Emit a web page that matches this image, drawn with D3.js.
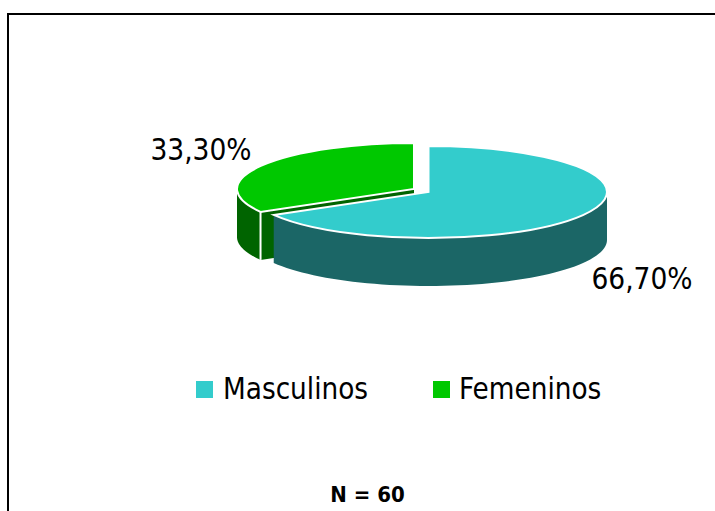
<!DOCTYPE html>
<html><head><meta charset="utf-8">
<script src="https://cdn.jsdelivr.net/npm/d3@7"></script>
<style>html,body{margin:0;padding:0;background:#fff;overflow:hidden}svg{display:block}
text{font-family:"DejaVu Sans Condensed","DejaVu Sans",sans-serif;fill:#000}</style></head>
<body><svg id="c" width="715" height="511"></svg>
<script>
const categories=["Masculinos","Femeninos"];
const values=[66.7,33.3];
const valueLabels=["66,70%","33,30%"];
const topColors=["#33CCCC","#00C800"];
const wallColors=["#1B6666","#006400"];
const note="N = 60";

const svg=d3.select("#c");
svg.append("path").attr("d","M8 511V14H715").attr("fill","none").attr("stroke","#000").attr("stroke-width",2);

const ry=46,depth=48;
const centers=[{x:428.5,y:192,rx:178.5},{x:414,y:189,rx:177}];
const arcs=d3.pie().value(d=>d).sort(null)(values);
const px=(c,t)=>c.x+c.rx*Math.sin(t), py=(c,t,d=0)=>c.y-ry*Math.cos(t)+d;
const line=d3.line();

function wall(c,a0,a1){
  const ts=d3.range(0,61).map(i=>a0+(a1-a0)*i/60);
  return line(ts.map(t=>[px(c,t),py(c,t)]).concat(ts.slice().reverse().map(t=>[px(c,t),py(c,t,depth)])))+"Z";
}
const layers=svg.append("g");
// green piece first, blue overlaps it
const g1=layers.append("g");
const c1=centers[1],a1=arcs[1];
const tipX=px(c1,a1.startAngle),tipY=py(c1,a1.startAngle);
g1.append("path").attr("d",line([[tipX,tipY],[c1.x,c1.y],[c1.x,c1.y+depth],[tipX,tipY+depth]])+"Z")
  .attr("fill",wallColors[1]);
g1.append("path").attr("d",wall(c1,a1.startAngle,Math.PI*1.5)).attr("fill",wallColors[1]);
g1.append("path").attr("d",line([[tipX,tipY],[tipX,tipY+depth]])).attr("stroke","#fff").attr("stroke-width",2).attr("fill","none");
g1.append("path").attr("d",d3.arc().innerRadius(0).outerRadius(c1.rx)(a1)).attr("transform",`translate(${c1.x},${c1.y}) scale(1,${ry/c1.rx})`)
  .attr("fill",topColors[1]).attr("stroke","#fff").attr("stroke-width",2).attr("vector-effect","non-scaling-stroke");

const g0=layers.append("g");
const c0=centers[0],a0=arcs[0];
g0.append("path").attr("d",wall(c0,Math.PI/2,a0.endAngle)).attr("fill",wallColors[0]);
g0.append("path").attr("d",d3.arc().innerRadius(0).outerRadius(c0.rx)(a0)).attr("transform",`translate(${c0.x},${c0.y}) scale(1,${ry/c0.rx})`)
  .attr("fill",topColors[0]).attr("stroke","#fff").attr("stroke-width",2).attr("vector-effect","non-scaling-stroke");

const labelPos=[[642,289],[201,160]];
svg.selectAll("text.v").data(valueLabels).join("text").attr("class","v")
  .attr("x",(d,i)=>labelPos[i][0]).attr("y",(d,i)=>labelPos[i][1])
  .attr("text-anchor","middle").attr("font-size",29.5).text(d=>d);

const swatchX=[196,433],textX=[223,459];
const lg=svg.append("g");
lg.selectAll("rect").data(categories).join("rect")
  .attr("x",(d,i)=>swatchX[i]).attr("y",381).attr("width",17).attr("height",17)
  .attr("fill",(d,i)=>topColors[i]);
lg.selectAll("text").data(categories).join("text")
  .attr("x",(d,i)=>textX[i]).attr("y",399).attr("font-size",29.3).text(d=>d);

svg.append("text").attr("x",367.5).attr("y",502).attr("text-anchor","middle")
  .attr("font-size",22).attr("font-weight","bold").text(note);
</script></body></html>
